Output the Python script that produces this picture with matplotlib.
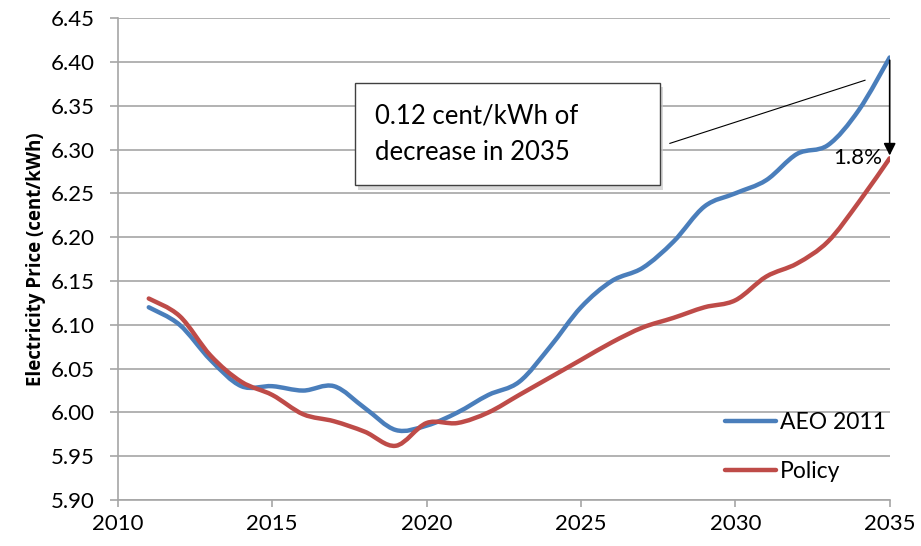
import numpy as np
import matplotlib.pyplot as plt
from matplotlib.path import Path
from matplotlib.patches import PathPatch, Rectangle
from matplotlib.lines import Line2D

plt.rcParams['font.family'] = ['Lato', 'DejaVu Sans']

years = list(range(2011, 2036))
aeo_2011 = [6.120, 6.100, 6.060, 6.030, 6.030, 6.025, 6.030, 6.005, 5.980, 5.985,
            6.000, 6.020, 6.035, 6.075, 6.120, 6.150, 6.165, 6.195, 6.235, 6.250,
            6.265, 6.295, 6.305, 6.345, 6.405]
policy = [6.130, 6.110, 6.065, 6.035, 6.020, 5.998, 5.990, 5.978, 5.962, 5.988,
          5.988, 6.000, 6.020, 6.040, 6.060, 6.080, 6.097, 6.108, 6.120, 6.128,
          6.155, 6.170, 6.195, 6.240, 6.290]
series_names = ['AEO 2011', 'Policy']
series_colors = ['#4A7EBB', '#BE4B48']
x_ticks = [2010, 2015, 2020, 2025, 2030, 2035]
y_ticks = [5.90, 5.95, 6.00, 6.05, 6.10, 6.15, 6.20, 6.25, 6.30, 6.35, 6.40, 6.45]
pct_label = '1.8%'
callout = '0.12 cent/kWh of\ndecrease in 2035'


def smooth_path(x, y):
    # spreadsheet-style smoothed line: cubic Bezier through every point
    p = np.column_stack([x, y]).astype(float)
    verts = [p[0]]
    codes = [Path.MOVETO]
    n = len(p)
    for i in range(n - 1):
        p0 = p[i - 1] if i > 0 else p[i]
        p3 = p[i + 2] if i + 2 < n else p[i + 1]
        c1 = p[i] + (p[i + 1] - p0) / 6
        c2 = p[i + 1] - (p3 - p[i]) / 6
        verts += [c1, c2, p[i + 1]]
        codes += [Path.CURVE4] * 3
    return Path(verts, codes)


fig = plt.figure(figsize=(9.21, 5.46), dpi=100)
ax = fig.add_axes([0.128, 0.084, 0.838, 0.883])

for vals, name, col in zip([aeo_2011, policy], series_names, series_colors):
    ax.add_patch(PathPatch(smooth_path(years, vals), fill=False, edgecolor=col,
                           lw=3.2, capstyle='round', joinstyle='round', zorder=3))

ax.set_xlim(2010, 2035)
ax.set_ylim(5.90, 6.45)
ax.set_xticks(x_ticks)
ax.set_yticks(y_ticks)
ax.set_yticklabels([f'{v:.2f}' for v in y_ticks])
ax.yaxis.grid(True, color='#a6a6a6', lw=1.2)
ax.set_axisbelow(True)
for s in ['top', 'right']:
    ax.spines[s].set_visible(False)
for s in ['left', 'bottom']:
    ax.spines[s].set_color('#a6a6a6')
    ax.spines[s].set_linewidth(1.2)
ax.tick_params(axis='both', colors='#a6a6a6', labelcolor='black', labelsize=16,
               length=5, width=1.2, direction='out')
ax.tick_params(axis='x', pad=5)
ax.tick_params(axis='y', length=6, pad=11)
ax.set_ylabel('Electricity Price (cent/kWh)', fontsize=13.5, fontweight='bold',
              family=['Open Sans', 'DejaVu Sans'], labelpad=3)

# drop between the two series in 2035
ax.annotate('', xy=(2035, policy[-1]), xytext=(2035, aeo_2011[-1]),
            arrowprops=dict(arrowstyle='-|>', color='black', lw=1.2,
                            mutation_scale=18), zorder=4)
ax.text(2034.75, policy[-1], pct_label, ha='right', va='center', fontsize=16,
        zorder=5)

# callout box with leader line
ax.plot([2027.88, 2034.2], [6.307, 6.379], color='black', lw=0.8, zorder=4)
bx0, bx1, by0, by1 = 2017.67, 2027.55, 6.259, 6.376
ax.add_patch(Rectangle((bx0 + 0.12, by0 - 0.005), bx1 - bx0, by1 - by0,
                       facecolor='#c8c8c8', edgecolor='none', alpha=0.7, zorder=5))
ax.add_patch(Rectangle((bx0, by0), bx1 - bx0, by1 - by0, facecolor='white',
                       edgecolor='#404040', lw=1.0, zorder=6))
ax.text(bx0 + 0.65, (by0 + by1) / 2, callout, ha='left', va='center',
        fontsize=18.5, linespacing=1.6, zorder=7)

handles = [Line2D([], [], color=c, lw=3.2, solid_capstyle='round') for c in series_colors]
ax.legend(handles, series_names, loc='lower right', bbox_to_anchor=(1.022, -0.005),
          frameon=False, fontsize=16.5, handlelength=2.2, handletextpad=0.2,
          labelspacing=1.2)

fig.savefig('out.png', dpi=100)
